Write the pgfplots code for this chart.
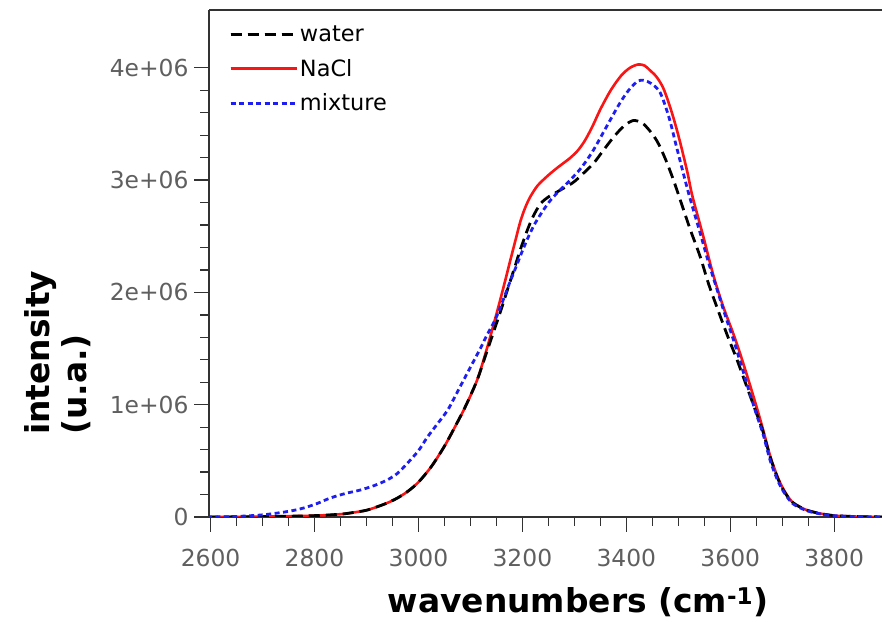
\documentclass[border=0pt]{standalone}
\usepackage{fontspec}
\setmainfont{DejaVu Sans}
\usepackage{pgfplots}
\pgfplotsset{compat=1.18}
\usepackage{pgfplotstable}
\definecolor{ticklab}{RGB}{95,95,95}
\definecolor{axcol}{RGB}{50,50,50}
\definecolor{nred}{RGB}{250,20,20}
\definecolor{mblue}{RGB}{30,30,240}

\pgfplotstableread{
w I
2560 0
2600 0
2700 0.003
2800 0.012
2850 0.025
2875 0.04
2900 0.06
2920 0.09
2940 0.125
2960 0.17
2980 0.23
3000 0.31
3025 0.45
3050 0.63
3070 0.80
3090 0.98
3113 1.22
3130 1.45
3144 1.64
3160 1.86
3171 2.02
3185 2.22
3196 2.38
3210 2.56
3221 2.68
3235 2.79
3250 2.85
3265 2.89
3280 2.93
3298 2.98
3315 3.05
3337 3.15
3355 3.26
3375 3.38
3395 3.48
3413 3.53
3430 3.51
3445 3.44
3460 3.34
3475 3.19
3490 3.01
3504 2.82
3523 2.56
3542 2.32
3558 2.08
3575 1.86
3595 1.61
3613 1.40
3635 1.12
3650 0.93
3663 0.76
3677 0.53
3690 0.36
3702 0.24
3720 0.13
3748 0.06
3780 0.025
3806 0.01
3850 0.003
3900 0
}\water

\pgfplotstableread{
w I
2560 0
2600 0
2700 0.003
2800 0.012
2850 0.025
2875 0.04
2900 0.06
2920 0.09
2940 0.125
2960 0.17
2980 0.23
3000 0.31
3025 0.45
3050 0.63
3070 0.80
3090 0.98
3113 1.22
3133 1.52
3152 1.84
3165 2.07
3177 2.29
3187 2.47
3196 2.63
3205 2.75
3215 2.85
3229 2.95
3242 3.01
3254 3.06
3270 3.12
3290 3.19
3306 3.26
3320 3.35
3335 3.48
3350 3.63
3370 3.80
3390 3.93
3407 4.00
3423 4.03
3435 4.02
3445 3.98
3458 3.92
3471 3.82
3485 3.64
3500 3.40
3517 3.08
3527 2.86
3548 2.50
3567 2.16
3586 1.88
3606 1.63
3620 1.44
3635 1.22
3650 0.99
3663 0.78
3677 0.54
3690 0.37
3702 0.25
3720 0.13
3748 0.06
3780 0.025
3806 0.01
3850 0.003
3900 0
}\nacl

\pgfplotstableread{
w I
2560 0
2600 0
2650 0.005
2702 0.02
2750 0.05
2779 0.08
2805 0.12
2831 0.17
2860 0.21
2888 0.24
2915 0.28
2940 0.33
2960 0.39
2979 0.48
3000 0.59
3017 0.71
3035 0.82
3056 0.95
3070 1.07
3087 1.22
3103 1.36
3119 1.50
3133 1.63
3148 1.76
3162 1.92
3175 2.08
3188 2.23
3200 2.37
3213 2.51
3225 2.62
3240 2.73
3254 2.82
3272 2.91
3292 3.00
3315 3.12
3337 3.27
3360 3.46
3383 3.65
3398 3.76
3410 3.83
3422 3.88
3433 3.89
3448 3.86
3465 3.78
3482 3.56
3498 3.27
3520 2.88
3542 2.53
3558 2.27
3575 2.02
3590 1.80
3606 1.58
3620 1.37
3635 1.14
3650 0.92
3663 0.74
3677 0.50
3690 0.34
3702 0.23
3720 0.12
3748 0.055
3780 0.022
3806 0.01
3850 0.003
3900 0
}\mixture

\begin{document}
\begin{tikzpicture}[x=1bp,y=1bp]
\path[use as bounding box] (0,0) rectangle (882,623);
\begin{axis}[
  at={(209bp,106bp)}, anchor=south west,
  scale only axis, width=673bp, height=507bp,
  xmin=2597, xmax=3892, ymin=0, ymax=4.515,
  axis x line*=box, axis y line*=left,
  xtick pos=bottom, ytick pos=left,
  xtick={2600,2800,3000,3200,3400,3600,3800},
  ytick={0,1,2,3,4},
  yticklabels={0,1e+06,2e+06,3e+06,4e+06},
  minor x tick num=3, minor y tick num=4,
  tick align=outside,
  major tick length=15bp, minor tick length=9bp,
  every tick/.style={axcol, line width=1.3bp},
  axis line style={axcol, line width=1.8bp},
  /pgf/number format/assume math mode=true,
  xticklabel={\pgfmathprintnumber[fixed,1000 sep={}]{\tick}},
  tick label style={ticklab, font=\fontsize{23.5}{28}\selectfont},
  xticklabel style={yshift=-14bp},
  yticklabel style={xshift=-2bp},
  legend style={draw=none, fill=none, at={(0,1)}, anchor=north west,
    xshift=20bp, yshift=-14bp, font=\fontsize{22.5}{26}\selectfont,
    row sep=12bp, inner sep=0pt},
  legend cell align=left,
  legend image code/.code={\draw[#1] (0bp,0bp) -- (55bp,0bp); \path (0bp,0bp) -- (66bp,0bp);},
]
\addlegendimage{black, line width=2.8bp, dash pattern=on 11bp off 6bp}
\addlegendentry{water}
\addlegendimage{nred, line width=2.6bp}
\addlegendentry{NaCl}
\addlegendimage{mblue, line width=2.8bp, dash pattern=on 5bp off 3.5bp}
\addlegendentry{mixture}
\addplot[nred, line width=2.6bp, smooth, forget plot] table[x=w,y=I] {\nacl};
\addplot[black, line width=2.8bp, dash pattern=on 11bp off 6bp, smooth, forget plot] table[x=w,y=I] {\water};
\addplot[mblue, line width=2.8bp, dash pattern=on 5bp off 3.5bp, smooth, forget plot] table[x=w,y=I] {\mixture};
\end{axis}
\node[rotate=90, anchor=north west, inner sep=0pt, align=left,
  font=\fontsize{33}{37}\bfseries] at (24,188) {intensity\\(u.a.)};
\node[anchor=base, inner sep=0pt, font=\fontsize{33}{37}\bfseries] at (578,10) {wavenumbers (cm\textsuperscript{-1})};
\end{tikzpicture}
\end{document}
